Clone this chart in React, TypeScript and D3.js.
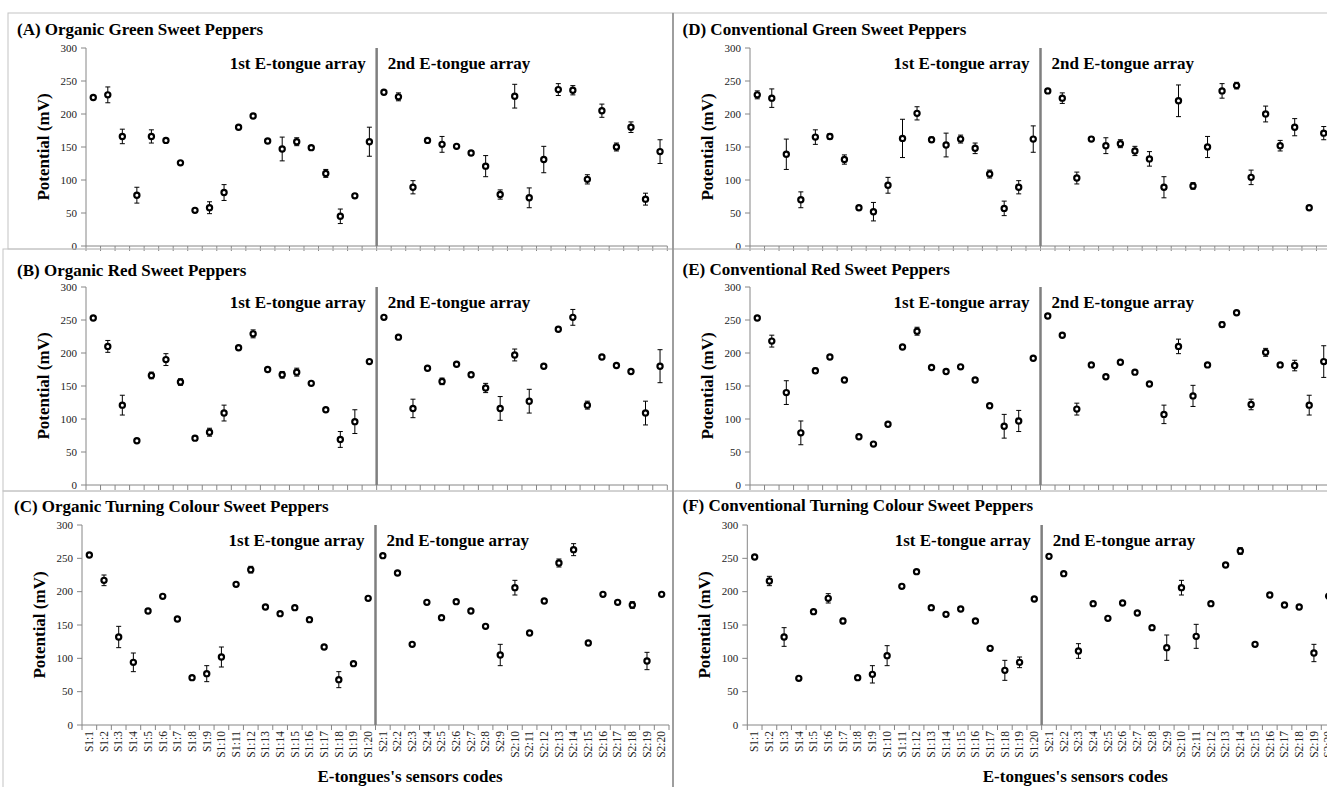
import React from "react";
import * as d3 from "d3";

const sensors = [
  "S1:1", "S1:2", "S1:3", "S1:4", "S1:5", "S1:6", "S1:7", "S1:8", "S1:9", "S1:10",
  "S1:11", "S1:12", "S1:13", "S1:14", "S1:15", "S1:16", "S1:17", "S1:18", "S1:19", "S1:20",
  "S2:1", "S2:2", "S2:3", "S2:4", "S2:5", "S2:6", "S2:7", "S2:8", "S2:9", "S2:10",
  "S2:11", "S2:12", "S2:13", "S2:14", "S2:15", "S2:16", "S2:17", "S2:18", "S2:19", "S2:20",
];
const yTicks = [0, 50, 100, 150, 200, 250, 300];
const panelTitles = [
  "(A) Organic Green Sweet Peppers",
  "(B) Organic Red Sweet Peppers",
  "(C) Organic Turning Colour Sweet Peppers",
  "(D) Conventional Green Sweet Peppers",
  "(E) Conventional Red Sweet Peppers",
  "(F) Conventional Turning Colour Sweet Peppers",
];
const arrayLabels = ["1st E-tongue array", "2nd E-tongue array"];
const yTitle = "Potential (mV)";
const xTitle = "E-tongues's sensors codes";

// (A) Organic green
const orgGreenMean = [225, 229, 166, 77, 166, 160, 126, 54, 58, 81, 180, 197, 159, 147, 158, 149, 110, 45, 76, 158,
  233, 226, 89, 160, 154, 151, 141, 121, 78, 227, 73, 131, 237, 236, 101, 205, 150, 180, 71, 143];
const orgGreenErr = [2, 12, 11, 12, 10, 3, 2, 2, 9, 12, 2, 2, 2, 18, 6, 3, 6, 11, 3, 22,
  2, 6, 10, 2, 12, 2, 3, 16, 7, 18, 15, 20, 9, 7, 7, 10, 6, 8, 9, 18];
// (B) Organic red
const orgRedMean = [253, 210, 121, 67, 166, 190, 156, 71, 80, 109, 208, 229, 175, 167, 171, 154, 114, 69, 96, 187,
  254, 224, 116, 177, 157, 183, 167, 147, 116, 197, 127, 180, 236, 254, 121, 194, 181, 172, 109, 180];
const orgRedErr = [2, 9, 15, 2, 5, 9, 5, 3, 6, 12, 2, 6, 2, 5, 6, 2, 2, 12, 18, 2,
  2, 2, 14, 2, 5, 2, 3, 7, 18, 9, 18, 2, 3, 12, 6, 2, 2, 2, 18, 25];
// (C) Organic turning colour
const orgTurnMean = [255, 217, 132, 94, 171, 193, 159, 71, 77, 102, 211, 233, 177, 167, 176, 158, 117, 68, 92, 190,
  254, 228, 121, 184, 161, 185, 171, 148, 105, 206, 138, 186, 243, 263, 123, 196, 184, 180, 96, 196];
const orgTurnErr = [2, 8, 16, 14, 2, 2, 2, 2, 12, 15, 2, 5, 2, 2, 2, 3, 2, 12, 2, 2,
  2, 2, 2, 2, 3, 2, 2, 2, 16, 11, 2, 2, 6, 9, 2, 2, 2, 5, 13, 2];
// (D) Conventional green
const convGreenMean = [229, 224, 139, 70, 165, 166, 131, 58, 52, 92, 163, 201, 161, 153, 162, 148, 109, 57, 89, 162,
  235, 224, 103, 162, 152, 155, 144, 132, 89, 220, 91, 150, 235, 243, 104, 200, 152, 180, 58, 171];
const convGreenErr = [6, 14, 23, 12, 11, 4, 7, 3, 14, 12, 29, 10, 4, 18, 6, 8, 6, 11, 10, 20,
  2, 8, 9, 3, 12, 6, 7, 11, 16, 24, 5, 16, 11, 5, 11, 12, 8, 13, 2, 10];
// (E) Conventional red
const convRedMean = [253, 218, 140, 79, 173, 194, 159, 73, 62, 92, 209, 233, 178, 172, 179, 159, 120, 89, 97, 192,
  256, 227, 115, 182, 164, 186, 171, 153, 107, 210, 135, 182, 243, 261, 122, 201, 182, 181, 121, 187];
const convRedErr = [2, 9, 18, 18, 4, 2, 2, 2, 2, 2, 2, 6, 2, 2, 2, 2, 2, 18, 16, 2,
  2, 2, 9, 2, 2, 2, 2, 2, 14, 11, 16, 2, 4, 2, 8, 6, 3, 8, 15, 24];
// (F) Conventional turning colour
const convTurnMean = [252, 216, 132, 70, 170, 190, 156, 71, 76, 104, 208, 230, 176, 166, 174, 156, 115, 82, 94, 189,
  253, 227, 111, 182, 160, 183, 168, 146, 116, 206, 133, 182, 240, 261, 121, 195, 180, 177, 108, 193];
const convTurnErr = [2, 7, 14, 2, 3, 7, 4, 2, 13, 15, 3, 2, 2, 2, 2, 2, 2, 15, 8, 2,
  2, 2, 11, 2, 2, 2, 2, 2, 19, 11, 18, 2, 2, 5, 2, 2, 2, 2, 13, 2];

const means = [orgGreenMean, orgRedMean, orgTurnMean, convGreenMean, convRedMean, convTurnMean];
const errs = [orgGreenErr, orgRedErr, orgTurnErr, convGreenErr, convRedErr, convTurnErr];

// layout (pixel geometry only)
const layouts = [
  { x0: 86, x1: 667.3, yTop: 48, yBot: 246, tx: 17, ty: 35, labels: false, fx: 8, fy: 13, fw: 665, fh: 236 },
  { x0: 86, x1: 667.3, yTop: 287, yBot: 485, tx: 17, ty: 275.5, labels: false, fx: 3, fy: 249, fw: 670, fh: 242 },
  { x0: 82, x1: 669, yTop: 525, yBot: 725, tx: 14, ty: 512, labels: true, fx: 3, fy: 491, fw: 670, fh: 300 },
  { x0: 750, x1: 1331, yTop: 48, yBot: 246, tx: 682.5, ty: 35, labels: false, fx: 673, fy: 13, fw: 700, fh: 236 },
  { x0: 750, x1: 1331, yTop: 287, yBot: 485, tx: 682.5, ty: 274.5, labels: false, fx: 673, fy: 249, fw: 700, fh: 242 },
  { x0: 747.3, x1: 1336, yTop: 525, yBot: 725, tx: 682.5, ty: 511, labels: true, fx: 673, fy: 491, fw: 700, fh: 300 },
];

const FONT = "'Liberation Serif', 'Times New Roman', serif";
const AXIS = "#868686";

function Panel({ i }: { i: number }) {
  const L = layouts[i];
  const mean = means[i];
  const err = errs[i];
  const x = d3.scaleBand<string>().domain(sensors).range([L.x0, L.x1]);
  const y = d3.scaleLinear().domain([0, 300]).range([L.yBot, L.yTop]);
  const bw = x.bandwidth();
  const divX = x("S2:1") as number;
  const cx = (s: string) => (x(s) as number) + bw / 2;
  const boundaries = sensors.map((s) => x(s) as number).concat([L.x1]);
  return (
    <g>
      <rect x={L.fx} y={L.fy} width={L.fw} height={L.fh} fill="none" stroke="#c4c4c4" strokeWidth={1} />
      <text x={L.tx} y={L.ty} fontFamily={FONT} fontWeight="bold" fontSize={17} fill="#000">
        {panelTitles[i]}
      </text>
      {/* y axis */}
      <line x1={L.x0} x2={L.x0} y1={y(300)} y2={y(0)} stroke={AXIS} strokeWidth={1} />
      {yTicks.map((t) => (
        <g key={t}>
          <line x1={L.x0 - 5} x2={L.x0} y1={y(t)} y2={y(t)} stroke={AXIS} />
          <text x={L.x0 - 9} y={y(t)} dy="0.33em" textAnchor="end" fontFamily={FONT} fontSize={11} fill="#222">
            {t}
          </text>
        </g>
      ))}
      <text
        transform={`translate(${L.x0 - 43},${(y(0) + y(300)) / 2}) rotate(-90)`}
        textAnchor="middle"
        dy="0.33em"
        fontFamily={FONT}
        fontWeight="bold"
        fontSize={17}
        fill="#000"
      >
        {yTitle}
      </text>
      {/* x axis */}
      <line x1={L.x0} x2={L.x1} y1={y(0)} y2={y(0)} stroke={AXIS} />
      {boundaries.map((b, k) => (
        <line key={k} x1={b} x2={b} y1={y(0)} y2={y(0) + 5} stroke={AXIS} />
      ))}
      {L.labels &&
        sensors.map((s) => (
          <text
            key={s}
            transform={`translate(${cx(s)},${y(0) + 6}) rotate(-90)`}
            textAnchor="end"
            dy="0.33em"
            fontFamily={FONT}
            fontSize={11.5}
            fill="#222"
          >
            {s}
          </text>
        ))}
      {L.labels && (
        <text x={L.x0 + 328} y={y(0) + 57} textAnchor="middle" fontFamily={FONT} fontWeight="bold" fontSize={17} fill="#000">
          {xTitle}
        </text>
      )}
      {/* divider */}
      <line x1={divX} x2={divX} y1={y(300)} y2={y(0)} stroke="#7f7f7f" strokeWidth={2.5} />
      <text x={divX - 11} y={L.yTop + 20.5} textAnchor="end" fontFamily={FONT} fontWeight="bold" fontSize={17} fill="#000">
        {arrayLabels[0]}
      </text>
      <text x={divX + 11} y={L.yTop + 20.5} textAnchor="start" fontFamily={FONT} fontWeight="bold" fontSize={17} fill="#000">
        {arrayLabels[1]}
      </text>
      {/* error bars */}
      {sensors.map((s, k) => {
        const c = cx(s);
        const lo = y(mean[k] - err[k]);
        const hi = y(mean[k] + err[k]);
        return (
          <g key={"e" + s} stroke="#000" strokeWidth={1}>
            <line x1={c} x2={c} y1={lo} y2={hi} />
            <line x1={c - 2.5} x2={c + 2.5} y1={lo} y2={lo} />
            <line x1={c - 2.5} x2={c + 2.5} y1={hi} y2={hi} />
          </g>
        );
      })}
      {sensors.map((s, k) => (
        <circle key={"p" + s} cx={cx(s)} cy={y(mean[k])} r={2.6} fill="#fff" stroke="#000" strokeWidth={2.2} />
      ))}
    </g>
  );
}

export default function App() {
  return (
    <svg width={1327} height={787} style={{ position: "absolute", left: 0, top: 0, background: "#fff" }}>
      <rect x={0} y={0} width={1327} height={787} fill="#fff" />
      {layouts.map((_, i) => (
        <Panel key={i} i={i} />
      ))}
      <line x1={673} x2={673} y1={13} y2={787} stroke="#8c8c8c" strokeWidth={1.5} />
    </svg>
  );
}
